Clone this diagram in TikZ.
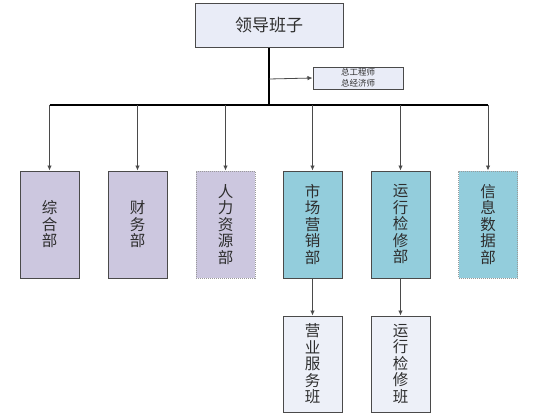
\documentclass[tikz,border=0pt]{standalone}
\usepackage{fontspec}
\newfontfamily\cjk{Noto Sans CJK SC}
\usetikzlibrary{arrows.meta}
\definecolor{topfill}{HTML}{E9ECF7}
\definecolor{lavfill}{HTML}{CCC7DF}
\definecolor{tealfill}{HTML}{93CDDC}
\definecolor{botfill}{HTML}{EDF0F8}
\definecolor{edge}{HTML}{4A4A4A}
\definecolor{txt}{HTML}{2E2E2E}
\begin{document}
\begin{tikzpicture}[x=1pt,y=-1pt,
  box/.style={draw=edge, line width=1pt, inner sep=0pt, text=txt, font=\cjk, align=center},
  vbox/.style={box, minimum width=59pt, font=\cjk\fontsize{15.5}{16.5}\selectfont},
  lav/.style={vbox, fill=lavfill, minimum height=107pt},
  teal/.style={vbox, fill=tealfill, minimum height=107pt},
  dotbox/.style={draw=gray!80, densely dotted},
  bot/.style={vbox, fill=botfill, minimum height=96pt},
  trunk/.style={line width=1.8pt, black},
  drop/.style={line width=0.8pt, edge, -{Latex[length=5pt,width=4.5pt]}}]
\useasboundingbox (0,0) rectangle (547,418);
\fill[white] (0,0) rectangle (547,418);
% top
\node[box, fill=topfill, minimum width=148pt, minimum height=44pt, font=\cjk\fontsize{17}{20}\selectfont] (top) at (269,25) {领导班子};
\node[box, fill=topfill, minimum width=90pt, minimum height=22pt, font=\cjk\fontsize{8.5}{10.5}\selectfont] (side) at (358,78) {总工程师\\总经济师};
% departments
\node[lav] (d1) at (49.5,224.5) {综\\合\\部};
\node[lav] (d2) at (137.5,224.5) {财\\务\\部};
\node[lav, dotbox] (d3) at (225.5,224.5) {人\\力\\资\\源\\部};
\node[teal] (d4) at (312.5,224.5) {市\\场\\营\\销\\部};
\node[teal] (d5) at (400.5,224.5) {运\\行\\检\\修\\部};
\node[teal, dotbox] (d6) at (488,224.5) {信\\息\\数\\据\\部};
% teams
\node[bot] (t1) at (312.5,364) {营\\业\\服\\务\\班};
\node[bot] (t2) at (400.5,364) {运\\行\\检\\修\\班};
% connectors
\coordinate (bus) at (269,105);
\coordinate (branch) at (269,79);
\coordinate (busL) at (49.5,105);
\coordinate (busR) at (488,105);
\draw[trunk] (top.south) -- (bus);
\draw[line width=1.5pt, black] (busL) -- (busR);
\draw[line width=0.8pt, edge, -{Latex[length=5pt,width=4.5pt]}] (branch) -- (side.west);
\foreach \d in {d1,d2,d3,d4,d5,d6}{
  \draw[drop] (\d.north |- bus) -- (\d.north);
}
\draw[drop] (d4.south) -- (t1.north);
\draw[drop] (d5.south) -- (t2.north);
\end{tikzpicture}
\end{document}
